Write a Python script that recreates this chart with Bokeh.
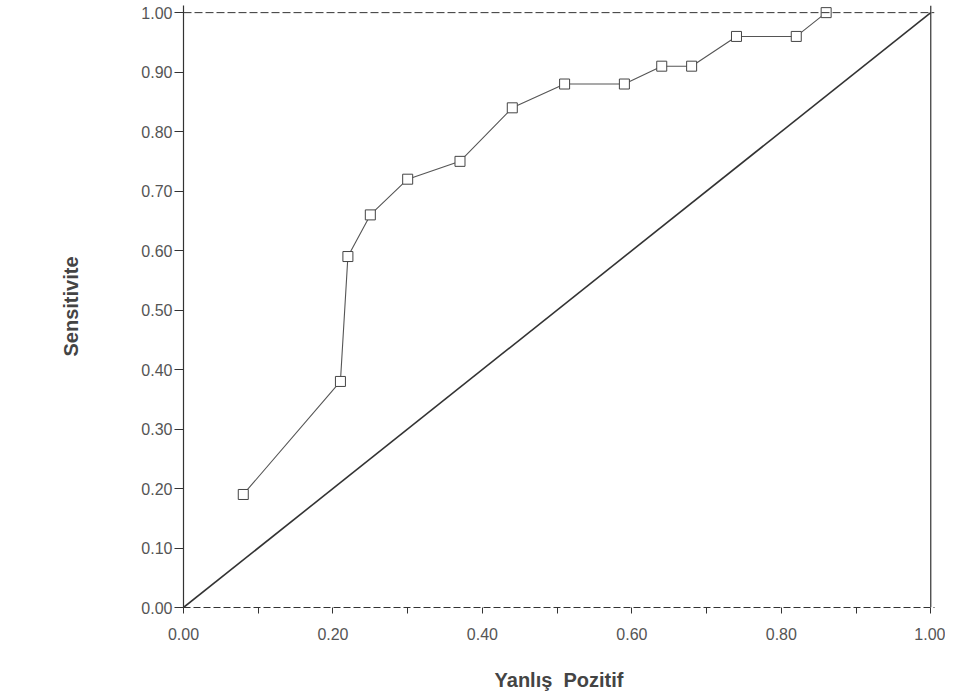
from bokeh.plotting import figure
from bokeh.models import FixedTicker, NumeralTickFormatter, Span, Range1d
from bokeh.embed import file_html
from bokeh.resources import INLINE

# ROC curve data
fpr = [0.08, 0.21, 0.22, 0.25, 0.30, 0.37, 0.44, 0.51, 0.59, 0.64, 0.68, 0.74, 0.82, 0.86]
sens = [0.19, 0.38, 0.59, 0.66, 0.72, 0.75, 0.84, 0.88, 0.88, 0.91, 0.91, 0.96, 0.96, 1.00]
diag_x = [0.0, 1.0]
diag_y = [0.0, 1.0]
x_ticks = [0.0, 0.2, 0.4, 0.6, 0.8, 1.0]
x_minor = [0.1, 0.3, 0.5, 0.7, 0.9]
y_ticks = [0.0, 0.1, 0.2, 0.3, 0.4, 0.5, 0.6, 0.7, 0.8, 0.9, 1.0]

ink = "#333333"
FONT = "Liberation Sans"

p = figure(width=945, height=693, output_backend="svg", toolbar_location=None,
           x_range=Range1d(0, 1.005), y_range=Range1d(0, 1.012),
           min_border_left=183, min_border_right=11, min_border_top=5, min_border_bottom=84)
p.grid.visible = False
p.outline_line_color = None
p.background_fill_color = "white"

# frame: top dashed, right solid
p.add_layout(Span(location=1.0, dimension="width", line_color=ink, line_width=1, line_dash="8 3"))
p.add_layout(Span(location=1.0, dimension="height", line_color=ink, line_width=1.2))

# diagonal reference line
p.line(diag_x, diag_y, line_color=ink, line_width=1.6)

# ROC curve
p.line(fpr, sens, line_color="#555555", line_width=1.1)
p.scatter(fpr, sens, marker="square", size=10, fill_color="white", line_color="#444444", line_width=1)

# X axis
xa = p.xaxis[0]
xa.ticker = FixedTicker(ticks=x_ticks, minor_ticks=x_minor)
xa.formatter = NumeralTickFormatter(format="0.00")
xa.axis_line_dash = "7 3"
xa.axis_line_color = ink
xa.major_tick_out = 6
xa.major_tick_in = 0
xa.minor_tick_out = 6
xa.minor_tick_in = 0
xa.major_tick_line_color = ink
xa.minor_tick_line_color = ink
xa.major_label_standoff = 14
xa.major_label_text_font = FONT
xa.major_label_text_font_size = "16px"
xa.major_label_text_color = "#555555"
xa.axis_label = "Yanlış\u00a0\u00a0Pozitif"
xa.axis_label_text_font = FONT
xa.axis_label_text_font_size = "20px"
xa.axis_label_text_font_style = "bold"
xa.axis_label_text_color = "#444444"
xa.axis_label_standoff = 26

# Y axis
ya = p.yaxis[0]
ya.ticker = FixedTicker(ticks=y_ticks)
ya.formatter = NumeralTickFormatter(format="0.00")
ya.axis_line_color = ink
ya.axis_line_width = 1.2
ya.major_tick_out = 9
ya.major_tick_in = 0
ya.minor_tick_out = 0
ya.minor_tick_in = 0
ya.major_tick_line_color = ink
ya.major_label_standoff = 2
ya.major_label_text_font = FONT
ya.major_label_text_font_size = "16px"
ya.major_label_text_color = "#555555"
ya.axis_label = "Sensitivite"
ya.axis_label_text_font = FONT
ya.axis_label_text_font_size = "20px"
ya.axis_label_text_font_style = "bold"
ya.axis_label_text_color = "#444444"
ya.axis_label_standoff = 56

open("out.html", "w").write(file_html(p, INLINE))
